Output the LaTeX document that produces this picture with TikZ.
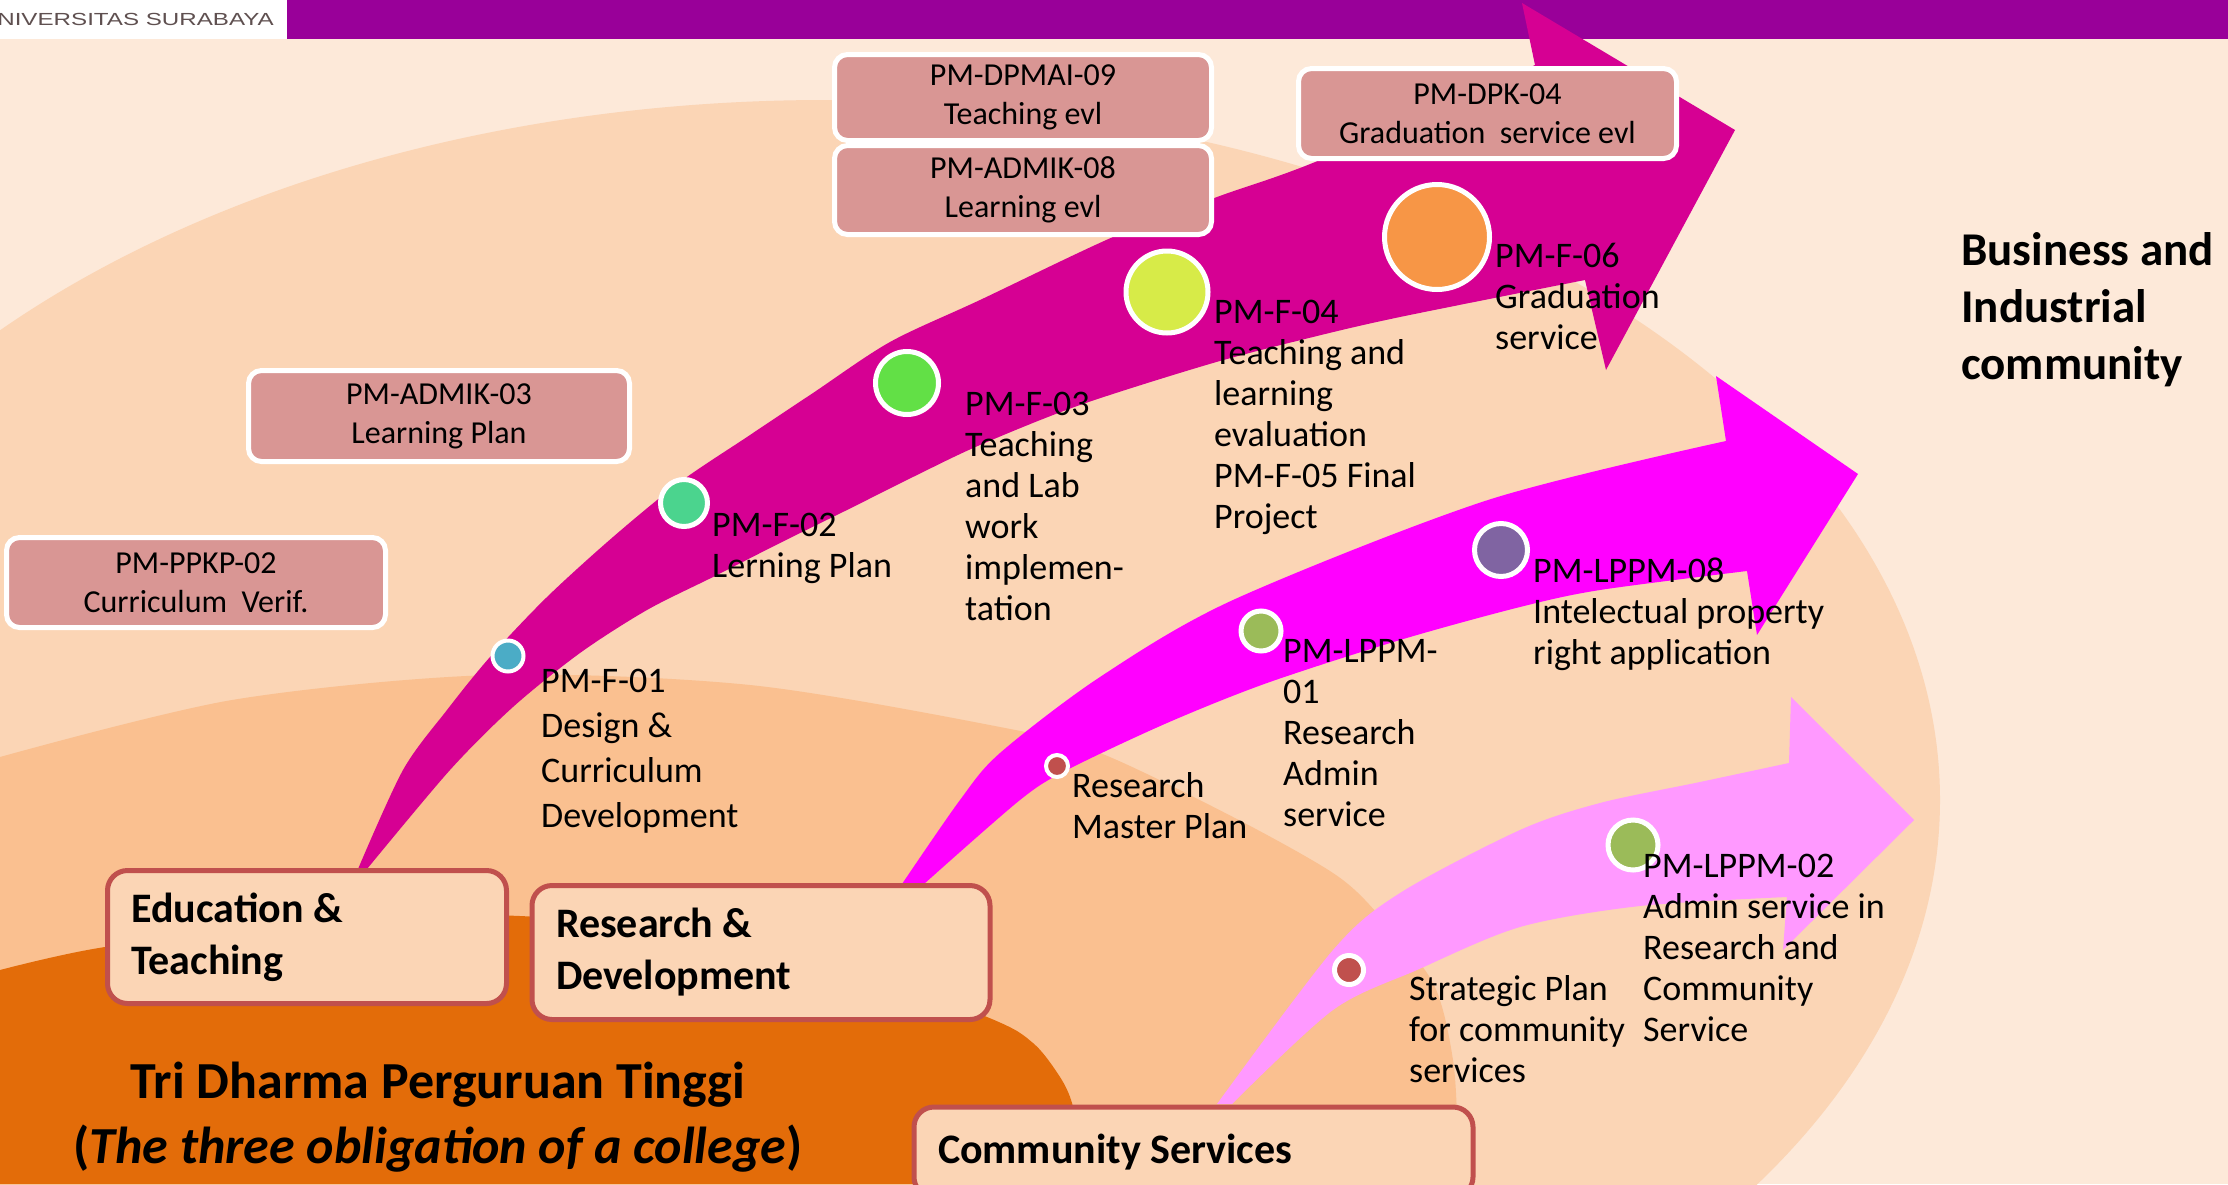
\documentclass[tikz,border=0pt]{standalone}
\usepackage{fontspec}
\setmainfont{Carlito}
\newfontfamily\unifont{Liberation Sans}
\usepackage{graphicx}
\definecolor{bgA}{HTML}{FDE9D9}
\definecolor{bgB}{HTML}{FBD5B5}
\definecolor{bgC}{HTML}{FAC090}
\definecolor{bgD}{HTML}{E36C09}
\definecolor{barP}{HTML}{990099}
\definecolor{arrA}{HTML}{D60093}
\definecolor{arrB}{HTML}{FF00FF}
\definecolor{arrC}{HTML}{FF99FF}
\definecolor{boxpink}{HTML}{D99694}
\definecolor{catborder}{HTML}{C0504D}
\definecolor{catfill}{HTML}{FBD5B5}
\definecolor{unigray}{HTML}{5F5050}
\definecolor{cBlue}{HTML}{4BACC6}
\definecolor{cMint}{HTML}{4BD48E}
\definecolor{cGreen}{HTML}{62E046}
\definecolor{cLime}{HTML}{D7EB48}
\definecolor{cOrange}{HTML}{F79646}
\definecolor{cRed}{HTML}{C0504D}
\definecolor{cOlive}{HTML}{9BBB59}
\definecolor{cViolet}{HTML}{8064A2}
\tikzset{
  lbl/.style={anchor=base west, align=left, inner sep=0, font=\fontsize{36}{41}\selectfont},
  pbox/.style={draw=white, line width=5, fill=boxpink, rounded corners=13, minimum width=377, minimum height=86, align=center, inner sep=0, font=\fontsize{32}{39}\selectfont},
  cbox/.style={draw=catborder, line width=5, fill=catfill, rounded corners=20, align=flush left, inner xsep=24, inner ysep=0, font=\bfseries\fontsize{42}{52}\selectfont},
  bead/.style={circle, draw=white, line width=5, inner sep=0}
}
\begin{document}
\begin{tikzpicture}[x=1pt,y=-1pt]
\useasboundingbox (0,0) rectangle (2228,1184);
\clip (0,0) rectangle (2228,1184);
% background layers
\fill[bgA] (0,0) rectangle (2228,1184);
\fill[bgB] (826,800) ellipse [x radius=1114pt, y radius=700pt];
\fill[bgC] (0,1184) -- plot[smooth] coordinates {(0,757) (232,700) (491,675) (750,685) (1000,727) (1100,753) (1233,817) (1333,873) (1377,913) (1433,983) (1453,1060) (1458,1140) (1460,1184)} -- cycle;
\fill[bgD] (0,1184) -- plot[smooth] coordinates {(0,970) (105,947) (300,925) (520,916) (800,948) (987,1017) (1033,1043) (1060,1077) (1072,1103) (1078,1140) (1079,1184)} -- cycle;
% top bar
\fill[white] (0,0) rectangle (287,39);
\fill[barP] (287,0) rectangle (2228,39);
\node[anchor=east, inner sep=0, text=unigray, font=\unifont\fontsize{17.5}{20}\selectfont] (uni) at (274,19) {\scalebox{1.38}[1]{UNIVERSITAS SURABAYA}};
% arrows
\fill[arrA] plot[smooth] coordinates {(358,869) (403,770) (447,710) (490,657) (547,597) (613,537) (680,482) (747,437) (813,393) (890,342) (980,300) (1113,237) (1217,197) (1320,160) (1535,65)} -- (1522,3) -- (1735,130) -- (1606,370) -- plot[smooth] coordinates {(1585,280) (1400,317) (1313,337) (1213,363) (1080,405) (980,445) (915,476) (847,510) (780,543) (713,577) (647,610) (580,653) (513,707) (450,770) (367,869)} -- cycle;
\fill[arrB] plot[smooth] coordinates {(902,884) (960,800) (1000,753) (1100,677) (1233,600) (1488,500) (1726,441)} -- (1716,376) -- (1858,474) -- (1757,635) -- plot[smooth] coordinates {(1747,571) (1600,590) (1520,607) (1400,640) (1267,683) (1167,723) (1067,770) (1020,800) (924,884)} -- cycle;
\fill[arrC] plot[smooth] coordinates {(1217,1104) (1333,950) (1400,893) (1520,830) (1600,803) (1700,782) (1789,763)} -- (1791,697) -- (1914,820) -- (1783,950) -- plot[smooth] coordinates {(1787,897) (1640,906) (1520,927) (1417,970) (1333,1010) (1232,1104)} -- cycle;
% pink document boxes
\node[pbox, minimum width=379, minimum height=90] (ppkp) at (196,582.5) {PM-PPKP-02\\Curriculum\ \ Verif.};
\node[pbox, minimum width=381, minimum height=91] (admik3) at (439,416) {PM-ADMIK-03\\Learning Plan};
\node[pbox, minimum height=86] (dpmai) at (1023,97.5) {PM-DPMAI-09\\Teaching evl};
\node[pbox, minimum height=89] (admik8) at (1023,190) {PM-ADMIK-08\\Learning evl};
\node[pbox, minimum width=378, minimum height=90] (dpk) at (1487.5,113.5) {PM-DPK-04\\Graduation\ \ service evl};
% circles
\node[bead, line width=4, fill=cBlue, minimum size=31] (c01) at (508,656) {};
\node[bead, fill=cMint, minimum size=47] (c02) at (684,503) {};
\node[bead, fill=cGreen, minimum size=63] (c03) at (907,383) {};
\node[bead, fill=cLime, minimum size=82] (c04) at (1167,292) {};
\node[bead, fill=cOrange, minimum size=105] (c06) at (1437,237) {};
\node[bead, line width=4, fill=cRed, minimum size=22] (crmp) at (1057,766) {};
\node[bead, fill=cOlive, minimum size=40] (cl01) at (1261,631) {};
\node[bead, fill=cViolet, minimum size=53] (cl08) at (1501,550) {};
\node[bead, fill=cRed, minimum size=29] (csp) at (1349,970) {};
\node[bead, fill=cOlive, minimum size=50] (cl02) at (1633,845) {};
% labels (anchored at the baseline of their last line)
\node[lbl, font=\fontsize{36}{45}\selectfont] (t01) at (541,827) {PM-F-01\\Design \&\\Curriculum\\Development};
\node[lbl] (t02) at (712,577) {PM-F-02\\Lerning Plan};
\node[lbl] (t03) at (965,620) {PM-F-03\\Teaching\\and Lab\\work\\implemen-\\tation};
\node[lbl] (t04) at (1214,528) {PM-F-04\\Teaching and\\learning\\evaluation\\PM-F-05 Final\\Project};
\node[lbl] (t06) at (1495,349) {PM-F-06\\Graduation\\service};
\node[lbl] (trmp) at (1072,838) {Research\\Master Plan};
\node[lbl] (tl01) at (1283,826) {PM-LPPM-\\01\\Research\\Admin\\service};
\node[lbl] (tl08) at (1533,664) {PM-LPPM-08\\Intelectual property\\right application};
\node[lbl] (tsp) at (1409,1082) {Strategic Plan\\for community\\services};
\node[lbl] (tl02) at (1643,1041) {PM-LPPM-02\\Admin service in\\Research and\\Community\\Service};
% category boxes
\node[cbox, minimum width=399, minimum height=133, text width=351] (edu) at (307,937) {Education \&\\Teaching};
\node[cbox, minimum width=458, minimum height=134, text width=410] (res) at (761,952.5) {Research \&\\Development};
\node[cbox, minimum width=559, minimum height=90, text width=511] (com) at (1193.5,1152) {Community Services};
% titles
\node[anchor=base, align=center, inner sep=0, font=\bfseries\fontsize{52}{65}\selectfont] (tri) at (438,1163) {Tri Dharma Perguruan Tinggi\\(\textit{The three obligation of a college})};
\node[anchor=base west, align=left, inner sep=0, font=\bfseries\fontsize{47}{57}\selectfont] (biz) at (1961,379) {Business and\\Industrial\\community};
\end{tikzpicture}
\end{document}
